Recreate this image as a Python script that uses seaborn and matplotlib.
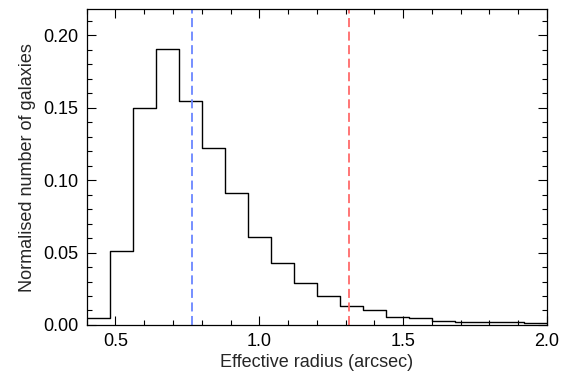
import numpy as np
import matplotlib
matplotlib.use("Agg")
import matplotlib.pyplot as plt
from matplotlib.ticker import MultipleLocator
import seaborn as sns

# Bin edges (arcsec) and normalised counts
bin_edges = [0.40, 0.48, 0.56, 0.64, 0.72, 0.80, 0.88, 0.96, 1.04, 1.12, 1.20,
             1.28, 1.36, 1.44, 1.52, 1.60, 1.68, 1.76, 1.84, 1.92, 2.00]
norm_counts = [0.005, 0.051, 0.150, 0.191, 0.155, 0.122, 0.091, 0.061, 0.043, 0.029,
               0.020, 0.013, 0.010, 0.0053, 0.0049, 0.0028, 0.0021, 0.0019, 0.0023, 0.0012]
blue_line_x = 0.766
red_line_x = 1.31

centers = [(a + b) / 2 for a, b in zip(bin_edges[:-1], bin_edges[1:])]

sns.set_style("ticks")
plt.rcParams['font.family'] = ['Liberation Sans', 'DejaVu Sans']

fig = plt.figure(figsize=(5.69, 3.77), dpi=100)
ax = fig.add_axes([0.1524, 0.138, 0.809, 0.837])

sns.histplot(x=centers, weights=norm_counts, bins=bin_edges, element="step",
             fill=False, color="black", linewidth=1.0, ax=ax, stat="count")

ax.axvline(blue_line_x, color="#6a86ff", linestyle=(0, (5, 2.5)), linewidth=1.3)
ax.axvline(red_line_x, color="#ff6a6a", linestyle=(0, (5, 2.5)), linewidth=1.3)

ax.set_xlim(0.4, 2.0)
ax.set_ylim(0.0, 0.218)
ax.xaxis.set_major_locator(MultipleLocator(0.5))
ax.xaxis.set_minor_locator(MultipleLocator(0.1))
ax.yaxis.set_major_locator(MultipleLocator(0.05))
ax.yaxis.set_minor_locator(MultipleLocator(0.01))
ax.xaxis.set_major_formatter(matplotlib.ticker.FormatStrFormatter('%.1f'))
ax.yaxis.set_major_formatter(matplotlib.ticker.FormatStrFormatter('%.2f'))

ax.tick_params(which='both', direction='in', top=True, right=True, colors='black',
               labelsize=13, width=0.8)
ax.tick_params(which='major', length=6.5, pad=6)
ax.tick_params(which='minor', length=3.6)
for s in ax.spines.values():
    s.set_visible(True)
    s.set_color('black')
    s.set_linewidth(0.9)

ax.set_xlabel("Effective radius (arcsec)", fontsize=13, labelpad=3)
ax.set_ylabel("Normalised number of galaxies", fontsize=13, labelpad=5)

fig.savefig("out.png", dpi=100)
